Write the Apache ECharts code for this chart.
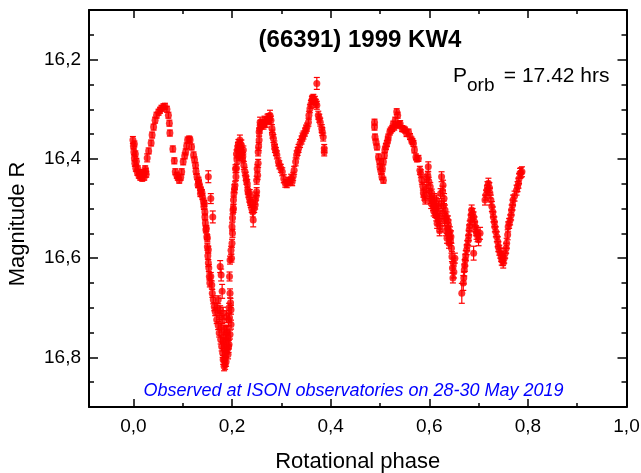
<!DOCTYPE html>
<html>
<head>
<meta charset="utf-8">
<script src="https://cdn.jsdelivr.net/npm/echarts@6/dist/echarts.min.js"></script>
<style>html,body{margin:0;padding:0;background:#fff;}#c{width:641px;height:473px;}</style>
</head>
<body>
<div id="c"></div>
<script>
// ---- data: [rotational phase, magnitude R, error] ----
const segment1 = [
[-0.001,16.362,0.007],[0.000,16.374,0.006],[0.001,16.386,0.006],[0.002,16.398,0.006],[0.003,16.409,0.006],[0.005,16.419,0.006],[0.008,16.427,0.006],[0.011,16.433,0.006],[0.014,16.437,0.006],[0.018,16.439,0.006],[0.022,16.437,0.006],[0.025,16.425,0.006],[0.026,16.431,0.006],[0.028,16.398,0.008],[0.031,16.384,0.006],[0.036,16.368,0.006],[0.038,16.352,0.006],[0.041,16.336,0.006],[0.044,16.322,0.006],[0.047,16.312,0.006],[0.051,16.306,0.006],[0.054,16.302,0.006],[0.057,16.298,0.006],[0.061,16.295,0.006],[0.064,16.294,0.006],[0.068,16.300,0.006],[0.071,16.312,0.006],[0.073,16.328,0.006],[0.074,16.348,0.006],[0.080,16.380,0.006],[0.083,16.404,0.006],[0.085,16.426,0.006],[0.088,16.433,0.006],[0.090,16.437,0.006],[0.093,16.443,0.006],[0.096,16.437,0.006],[0.098,16.426,0.006],[0.101,16.406,0.006],[0.104,16.394,0.006],[0.106,16.386,0.006],[0.108,16.374,0.006],[0.110,16.362,0.006],[0.113,16.360,0.006],[0.115,16.362,0.006],[0.118,16.376,0.006],[0.122,16.392,0.006],[0.124,16.402,0.006],[0.126,16.413,0.006],[0.129,16.436,0.006],[0.132,16.443,0.006],[0.133,16.449,0.006],[0.135,16.457,0.006],[0.137,16.463,0.006],[0.140,16.476,0.006],[0.142,16.485,0.006],[0.143,16.496,0.006],[0.145,16.507,0.006],[0.145,16.517,0.006],[0.146,16.529,0.006],[0.147,16.543,0.006],[0.149,16.557,0.006],[0.150,16.577,0.007],[0.152,16.583,0.007],[0.152,16.610,0.007],[0.154,16.637,0.007],[0.157,16.637,0.008],[0.159,16.654,0.008],[0.160,16.671,0.008],[0.162,16.684,0.008],[0.164,16.698,0.008],[0.166,16.708,0.008],[0.169,16.724,0.008],[0.172,16.736,0.008],[0.174,16.751,0.008],[0.177,16.764,0.009],[0.179,16.778,0.009],[0.181,16.791,0.009],[0.182,16.805,0.009],[0.184,16.818,0.009],
[0.002,16.370,0.006],[0.004,16.390,0.006],[0.006,16.405,0.006],[0.009,16.420,0.006],[0.012,16.428,0.006],[0.016,16.432,0.006],[0.020,16.428,0.006],[0.024,16.420,0.006],
[0.127,16.425,0.006],[0.131,16.452,0.006],[0.136,16.470,0.006],[0.139,16.468,0.006],[0.144,16.490,0.006],[0.148,16.540,0.006],[0.150,16.560,0.007],[0.151,16.595,0.007],[0.153,16.620,0.007],[0.155,16.650,0.008],
[0.172,16.684,0.008],[0.176,16.704,0.008],[0.180,16.724,0.008],[0.184,16.744,0.009],[0.188,16.764,0.009],[0.190,16.784,0.009],[0.186,16.800,0.009],[0.188,16.809,0.009],[0.192,16.794,0.009],[0.194,16.774,0.009],[0.196,16.754,0.009],[0.198,16.734,0.009],[0.198,16.704,0.009],
[0.170,16.700,0.009],[0.174,16.715,0.009],[0.178,16.740,0.009],[0.182,16.760,0.009],[0.185,16.780,0.009],[0.187,16.790,0.009],[0.183,16.770,0.009],[0.190,16.745,0.009],[0.192,16.760,0.009],[0.194,16.700,0.009],[0.195,16.720,0.009],[0.197,16.690,0.009],[0.186,16.815,0.009],[0.184,16.805,0.009],
[0.152,16.436,0.012],[0.157,16.480,0.010],[0.161,16.517,0.012],[0.176,16.617,0.012],[0.178,16.634,0.012],[0.180,16.667,0.014],[0.182,16.711,0.012],[0.189,16.718,0.012],[0.193,16.724,0.012],[0.189,16.750,0.012],[0.193,16.778,0.012],
[0.196,16.671,0.009],[0.195,16.637,0.009],[0.196,16.604,0.008],[0.198,16.584,0.008],[0.200,16.570,0.008],[0.200,16.537,0.008],[0.201,16.519,0.008],[0.202,16.503,0.008],[0.203,16.483,0.008],[0.204,16.469,0.008],[0.206,16.453,0.008],[0.208,16.436,0.008],[0.209,16.419,0.008],[0.210,16.402,0.008],[0.211,16.382,0.008],[0.213,16.369,0.008],[0.214,16.395,0.008],[0.216,16.362,0.010],[0.218,16.390,0.008],[0.219,16.372,0.010],[0.221,16.400,0.008],[0.223,16.382,0.008],[0.224,16.413,0.008],[0.226,16.425,0.008],[0.229,16.443,0.008],[0.232,16.463,0.008],[0.233,16.469,0.008],[0.235,16.479,0.008],[0.237,16.486,0.008],[0.240,16.500,0.008],[0.242,16.507,0.010],[0.243,16.523,0.014],[0.247,16.493,0.008],[0.247,16.483,0.008],[0.250,16.466,0.008],[0.250,16.443,0.008],[0.252,16.433,0.008],[0.253,16.409,0.008],[0.253,16.386,0.008],[0.255,16.362,0.008],[0.255,16.346,0.008],[0.257,16.326,0.010],[0.260,16.332,0.008],[0.264,16.332,0.008],[0.267,16.326,0.010],[0.270,16.326,0.010],[0.274,16.319,0.010],[0.277,16.312,0.010],[0.279,16.322,0.008],[0.281,16.339,0.008],[0.284,16.359,0.008],[0.287,16.379,0.008],[0.291,16.392,0.008],[0.294,16.406,0.008],[0.299,16.419,0.008],[0.302,16.426,0.008],[0.308,16.449,0.008],[0.314,16.446,0.008],[0.320,16.439,0.008],[0.322,16.446,0.008],[0.326,16.423,0.008],[0.329,16.406,0.008],[0.331,16.392,0.008],[0.335,16.379,0.008],[0.338,16.369,0.008],[0.341,16.362,0.008],[0.345,16.352,0.008],[0.348,16.346,0.008],[0.352,16.336,0.008],[0.355,16.326,0.008],[0.356,16.312,0.008],[0.358,16.299,0.008],[0.362,16.282,0.008],[0.365,16.278,0.008],[0.368,16.282,0.008],[0.372,16.248,0.012],[0.372,16.292,0.008],[0.375,16.312,0.008],[0.379,16.326,0.008],[0.382,16.339,0.008],[0.385,16.356,0.008],[0.387,16.379,0.008],[0.387,16.386,0.008],
[0.199,16.600,0.008],[0.201,16.550,0.008],[0.203,16.500,0.008],[0.205,16.460,0.008],[0.207,16.420,0.008],[0.209,16.390,0.008],[0.212,16.375,0.008],[0.215,16.380,0.008],[0.217,16.370,0.008],[0.220,16.385,0.008],[0.222,16.395,0.008],
[0.228,16.435,0.008],[0.231,16.450,0.008],[0.236,16.470,0.008],[0.238,16.490,0.008],[0.245,16.500,0.008],[0.249,16.475,0.008],[0.251,16.420,0.008],[0.254,16.375,0.008],[0.256,16.340,0.008],[0.258,16.330,0.008],[0.262,16.328,0.008],[0.266,16.322,0.008],[0.272,16.318,0.008],[0.276,16.318,0.008],
[0.282,16.350,0.008],[0.286,16.372,0.008],[0.289,16.385,0.008],[0.296,16.412,0.008],[0.305,16.440,0.008],[0.311,16.450,0.008],[0.317,16.445,0.008],[0.324,16.435,0.008],[0.333,16.385,0.008],[0.343,16.356,0.008],[0.350,16.340,0.008],[0.360,16.290,0.008],[0.363,16.280,0.008],[0.370,16.288,0.008],[0.377,16.318,0.008],[0.383,16.345,0.008]
];
const segment2 = [
[0.489,16.326,0.006],[0.489,16.336,0.006],[0.490,16.356,0.006],[0.494,16.376,0.006],[0.497,16.396,0.006],[0.500,16.416,0.006],[0.504,16.436,0.006],[0.507,16.443,0.006],[0.507,16.406,0.006],[0.510,16.382,0.006],[0.514,16.369,0.006],[0.517,16.356,0.006],[0.520,16.346,0.006],[0.525,16.339,0.006],[0.529,16.336,0.006],[0.534,16.305,0.006],[0.536,16.312,0.006],[0.537,16.332,0.006],[0.541,16.329,0.006],[0.545,16.339,0.006],[0.551,16.342,0.006],[0.554,16.349,0.006],[0.558,16.346,0.006],[0.564,16.362,0.006],[0.568,16.369,0.006],[0.570,16.382,0.006],[0.573,16.396,0.006],[0.578,16.399,0.006],[0.581,16.423,0.008],[0.585,16.443,0.008],[0.588,16.469,0.008],[0.592,16.483,0.008],[0.595,16.440,0.008],[0.597,16.433,0.008],[0.598,16.416,0.010],[0.600,16.470,0.010],[0.602,16.456,0.008],[0.604,16.490,0.010],[0.605,16.469,0.008],[0.608,16.496,0.008],[0.610,16.480,0.010],[0.612,16.510,0.008],[0.613,16.500,0.010],[0.615,16.483,0.010],[0.617,16.505,0.010],[0.618,16.523,0.010],[0.620,16.520,0.010],[0.622,16.537,0.010],[0.625,16.436,0.010],[0.625,16.490,0.010],[0.628,16.453,0.010],[0.630,16.480,0.010],[0.632,16.503,0.010],[0.633,16.520,0.010],[0.635,16.517,0.010],[0.637,16.540,0.012],[0.639,16.533,0.010],[0.639,16.550,0.010],[0.641,16.560,0.012],[0.642,16.547,0.010],[0.644,16.557,0.012],[0.646,16.597,0.010],[0.648,16.640,0.010],[0.649,16.610,0.010],[0.650,16.628,0.012],[0.652,16.600,0.010],[0.666,16.671,0.020],[0.669,16.650,0.015],[0.671,16.624,0.012],[0.673,16.604,0.012],[0.676,16.583,0.010],[0.679,16.564,0.010],[0.681,16.543,0.010],[0.684,16.523,0.010],[0.686,16.503,0.010],[0.690,16.517,0.010],[0.690,16.590,0.014],[0.693,16.537,0.010],[0.696,16.550,0.012],[0.700,16.563,0.012],[0.703,16.550,0.012],[0.713,16.483,0.010],[0.717,16.463,0.010],[0.720,16.449,0.010],[0.723,16.469,0.010],[0.727,16.496,0.010],[0.730,16.517,0.010],[0.733,16.537,0.010],[0.737,16.557,0.010],[0.740,16.577,0.010],[0.744,16.590,0.010],[0.747,16.604,0.010],[0.750,16.610,0.010],[0.754,16.590,0.010],[0.757,16.570,0.010],[0.760,16.537,0.010],[0.764,16.523,0.010],[0.767,16.503,0.010],[0.770,16.483,0.010],[0.777,16.463,0.010],[0.781,16.449,0.010],[0.784,16.429,0.010],[0.788,16.426,0.010],
[0.492,16.366,0.006],[0.499,16.405,0.006],[0.502,16.425,0.006],[0.505,16.420,0.006],[0.509,16.393,0.006],[0.512,16.375,0.006],[0.516,16.362,0.006],[0.522,16.342,0.006],[0.527,16.330,0.006],[0.531,16.322,0.006],[0.539,16.330,0.006],[0.548,16.340,0.006],[0.561,16.355,0.006],[0.566,16.365,0.006],[0.575,16.400,0.006],[0.583,16.430,0.008],[0.587,16.455,0.008],[0.590,16.475,0.008],[0.594,16.460,0.008],[0.599,16.445,0.008],[0.603,16.480,0.010],[0.606,16.485,0.010],[0.609,16.505,0.010],[0.611,16.495,0.010],[0.614,16.515,0.010],[0.616,16.530,0.010],[0.619,16.495,0.010],[0.621,16.545,0.010],[0.623,16.470,0.010],[0.626,16.510,0.010],[0.627,16.465,0.010],[0.629,16.495,0.010],[0.631,16.525,0.010],[0.634,16.545,0.010],[0.636,16.560,0.010],[0.638,16.525,0.010],[0.640,16.570,0.010],[0.643,16.565,0.010],[0.645,16.580,0.010],[0.647,16.620,0.010],[0.670,16.640,0.012],[0.672,16.615,0.012],[0.674,16.595,0.010],[0.677,16.575,0.010],[0.680,16.555,0.010],[0.682,16.535,0.010],[0.685,16.513,0.010],[0.688,16.510,0.010],[0.692,16.527,0.010],[0.695,16.545,0.010],[0.698,16.555,0.012],[0.715,16.473,0.010],[0.718,16.456,0.010],[0.722,16.458,0.010],[0.725,16.483,0.010],[0.729,16.507,0.010],[0.732,16.527,0.010],[0.735,16.547,0.010],[0.739,16.567,0.010],[0.742,16.584,0.010],[0.746,16.597,0.010],[0.749,16.605,0.010],[0.752,16.600,0.010],[0.756,16.580,0.010],[0.759,16.553,0.010],[0.762,16.530,0.010],[0.766,16.513,0.010],[0.769,16.493,0.010],[0.773,16.475,0.010],[0.779,16.456,0.010],[0.782,16.440,0.010],[0.786,16.428,0.010]
];

// ---- tick values ----
const xMajorTicks = [0.0, 0.2, 0.4, 0.6, 0.8, 1.0];
const xMinorTicks = [0.1, 0.3, 0.5, 0.7, 0.9];
const yMajorTicks = [16.2, 16.4, 16.6, 16.8];
const yMinorTicks = [16.15, 16.25, 16.3, 16.35, 16.45, 16.5, 16.55, 16.65, 16.7, 16.75, 16.85];

const titleText = '(66391) 1999 KW4';
const noteText = 'Observed at ISON observatories on 28-30 May 2019';

const FONT = '"Liberation Sans", Arial, sans-serif';
const RED = '#ff0000';
const commaFmt = v => v.toFixed(1).replace('.', ',');

function xAx(pos, ticks, len, labels, line) {
  return {
    type: 'value', position: pos, min: -0.09, max: 1.0,
    axisLine: { show: line, onZero: false, lineStyle: { color: '#000', width: 2 } },
    axisTick: { show: true, inside: true, length: len, customValues: ticks, lineStyle: { color: '#000', width: 1.5 } },
    axisLabel: labels ? { show: true, customValues: ticks, formatter: commaFmt, margin: 10,
      fontFamily: FONT, fontSize: 19, color: '#000' } : { show: false },
    splitLine: { show: false }
  };
}
function yAx(pos, ticks, len, labels, line) {
  return {
    type: 'value', position: pos, min: 16.1, max: 16.9, inverse: true,
    axisLine: { show: line, onZero: false, lineStyle: { color: '#000', width: 2 } },
    axisTick: { show: true, inside: true, length: len, customValues: ticks, lineStyle: { color: '#000', width: 1.5 } },
    axisLabel: labels ? { show: true, customValues: ticks, formatter: commaFmt, margin: 8,
      fontFamily: FONT, fontSize: 19, color: '#000' } : { show: false },
    splitLine: { show: false }
  };
}

const xAxes = [
  xAx('bottom', xMajorTicks, 8, true, true),
  xAx('bottom', xMinorTicks, 4, false, false),
  xAx('top', xMajorTicks, 8, false, true),
  xAx('top', xMinorTicks, 4, false, false)
];
xAxes[0].name = 'Rotational phase';
xAxes[0].nameLocation = 'middle';
xAxes[0].nameGap = 44;
xAxes[0].nameTextStyle = { fontFamily: FONT, fontSize: 22, color: '#000' };

const yAxes = [
  yAx('left', yMajorTicks, 9, true, true),
  yAx('left', yMinorTicks, 5, false, false),
  yAx('right', yMajorTicks, 9, false, true),
  yAx('right', yMinorTicks, 5, false, false)
];

function renderErr(params, api) {
  const x = api.value(0), y = api.value(1), e = api.value(2);
  const a = api.coord([x, y - e]);
  const b = api.coord([x, y + e]);
  const c = 3;
  const st = { stroke: RED, lineWidth: 1.2 };
  return { type: 'group', children: [
    { type: 'line', shape: { x1: a[0], y1: a[1], x2: b[0], y2: b[1] }, style: st },
    { type: 'line', shape: { x1: a[0] - c, y1: a[1], x2: a[0] + c, y2: a[1] }, style: st },
    { type: 'line', shape: { x1: b[0] - c, y1: b[1], x2: b[0] + c, y2: b[1] }, style: st }
  ]};
}

const allObs = segment1.concat(segment2);

const chart = echarts.init(document.getElementById('c'), null, { renderer: 'canvas' });
chart.setOption({
  animation: false,
  backgroundColor: '#fff',
  grid: { left: 89, right: 14.5, top: 10, bottom: 66, containLabel: false, outerBoundsMode: 'none' },
  xAxis: xAxes,
  yAxis: yAxes,
  series: [
    { type: 'custom', name: 'error', data: allObs, renderItem: renderErr,
      encode: { x: 0, y: 1 }, xAxisIndex: 0, yAxisIndex: 0, z: 2 },
    { type: 'scatter', name: 'Magnitude R', data: allObs.map(d => [d[0], d[1]]),
      symbol: 'circle', symbolSize: 7, itemStyle: { color: RED },
      xAxisIndex: 0, yAxisIndex: 0, z: 3 }
  ],
  graphic: [
    { type: 'text', x: 360, y: 40, style: { text: titleText, font: 'bold 24px ' + FONT, fill: '#000', align: 'center', verticalAlign: 'middle' } },
    { type: 'text', x: 453, y: 76, style: { text: 'P', font: '21px ' + FONT, fill: '#000', align: 'left', verticalAlign: 'middle' } },
    { type: 'text', x: 467, y: 85.5, style: { text: 'orb', font: '19px ' + FONT, fill: '#000', align: 'left', verticalAlign: 'middle' } },
    { type: 'text', x: 498, y: 76, style: { text: ' = 17.42 hrs', font: '21px ' + FONT, fill: '#000', align: 'left', verticalAlign: 'middle' } },
    { type: 'text', x: 353.5, y: 390.5, style: { text: noteText, font: 'italic 18px ' + FONT, fill: '#0000ff', align: 'center', verticalAlign: 'middle' } },
    { type: 'text', x: 18, y: 224, rotation: Math.PI / 2, style: { text: 'Magnitude R', font: '22px ' + FONT, fill: '#000', align: 'center', verticalAlign: 'middle' } }
  ]
});
</script>
</body>
</html>
